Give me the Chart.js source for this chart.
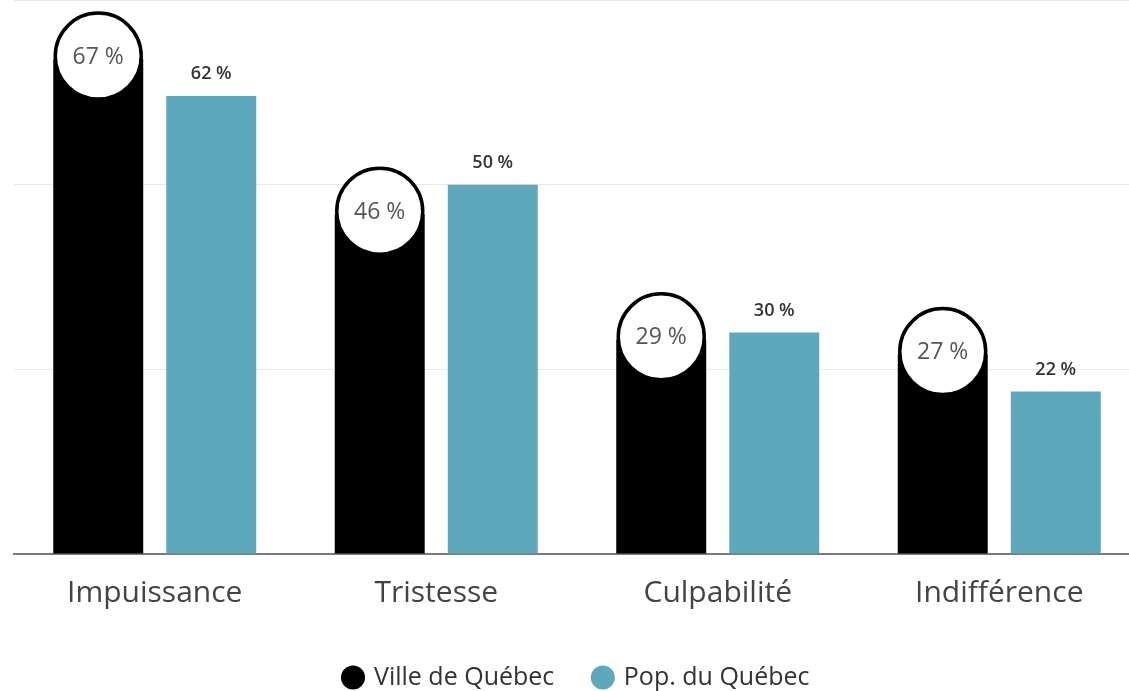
<!DOCTYPE html>
<html>
<head>
<meta charset="utf-8">
<script src="https://cdn.jsdelivr.net/npm/chart.js@4"></script>
<style>
  body { margin: 0; background: #fff; overflow: hidden; }
  #wrap { width: 1140px; height: 691px; }
</style>
</head>
<body>
<div id="wrap"><canvas id="barGraph"></canvas></div>
<script>
const categories = ["Impuissance", "Tristesse", "Culpabilité", "Indifférence"];
const villeQuebec = [67, 46, 29, 27];
const popQuebec = [62, 50, 30, 22];
const seriesNames = ["Ville de Québec", "Pop. du Québec"];
const yTicks = [0, 25, 50, 75];

const FONT = "'Open Sans', sans-serif";
const PLOT_BOTTOM = 554; // where the baseline sits in the picture
const PAD_BOTTOM = -9;   // lets the legend sit a bit lower

// white rounded label on top of the black bars, plain label above the teal ones
const valueLabels = {
  id: "valueLabels",
  afterDatasetsDraw(chart) {
    const ctx = chart.ctx;
    ctx.save();
    chart.getDatasetMeta(0).data.forEach((bar, i) => {
      const r = bar.width / 2 - 2;
      const cy = bar.y - 3;
      ctx.beginPath();
      ctx.arc(bar.x, cy, r, 0, Math.PI * 2);
      ctx.fillStyle = "#fff";
      ctx.fill();
      ctx.lineWidth = 3.5;
      ctx.strokeStyle = "#000";
      ctx.stroke();
      ctx.fillStyle = "#555";
      ctx.font = "23px " + FONT;
      ctx.textAlign = "center";
      ctx.textBaseline = "middle";
      ctx.fillText(villeQuebec[i] + " %", bar.x, cy + 1);
    });
    chart.getDatasetMeta(1).data.forEach((bar, i) => {
      ctx.fillStyle = "#333";
      ctx.font = "600 18px " + FONT;
      ctx.textAlign = "center";
      ctx.textBaseline = "middle";
      ctx.fillText(popQuebec[i] + " %", bar.x, bar.y - 22);
    });
    ctx.restore();
  }
};

const barGraph = new Chart(document.getElementById("barGraph"), {
  type: "bar",
  data: {
    labels: categories,
    datasets: [
      { label: seriesNames[0], data: villeQuebec, backgroundColor: "#000000" },
      { label: seriesNames[1], data: popQuebec, backgroundColor: "#5ea8bc" }
    ]
  },
  options: {
    responsive: true,
    maintainAspectRatio: false,
    animation: false,
    categoryPercentage: 0.803,
    barPercentage: 0.796,
    layout: { padding: { left: 14, right: 0, top: 0, bottom: PAD_BOTTOM } },
    plugins: {
      tooltip: { enabled: false },
      legend: {
        position: "bottom",
        labels: {
          usePointStyle: true,
          pointStyle: "circle",
          boxWidth: 17,
          boxHeight: 17,
          padding: 40,
          color: "#333",
          font: { family: FONT, size: 25 }
        }
      }
    },
    scales: {
      x: {
        grid: { display: false },
        border: { display: true, color: "#7a7a7a", width: 2 },
        ticks: { color: "#444", padding: 13, font: { family: FONT, size: 30 } },
        afterFit(scale) {
          scale.height = scale.chart.height - PAD_BOTTOM - PLOT_BOTTOM - scale.chart.legend.height;
        }
      },
      y: {
        min: 0,
        max: yTicks[yTicks.length - 1],
        afterBuildTicks(scale) { scale.ticks = yTicks.map(v => ({ value: v })); },
        afterFit(scale) { scale.width = 0; },
        border: { display: false },
        grid: { color: "#e8e8e8", lineWidth: 1, drawTicks: false },
        ticks: { display: false }
      }
    }
  },
  plugins: [valueLabels]
});
</script>
</body>
</html>
